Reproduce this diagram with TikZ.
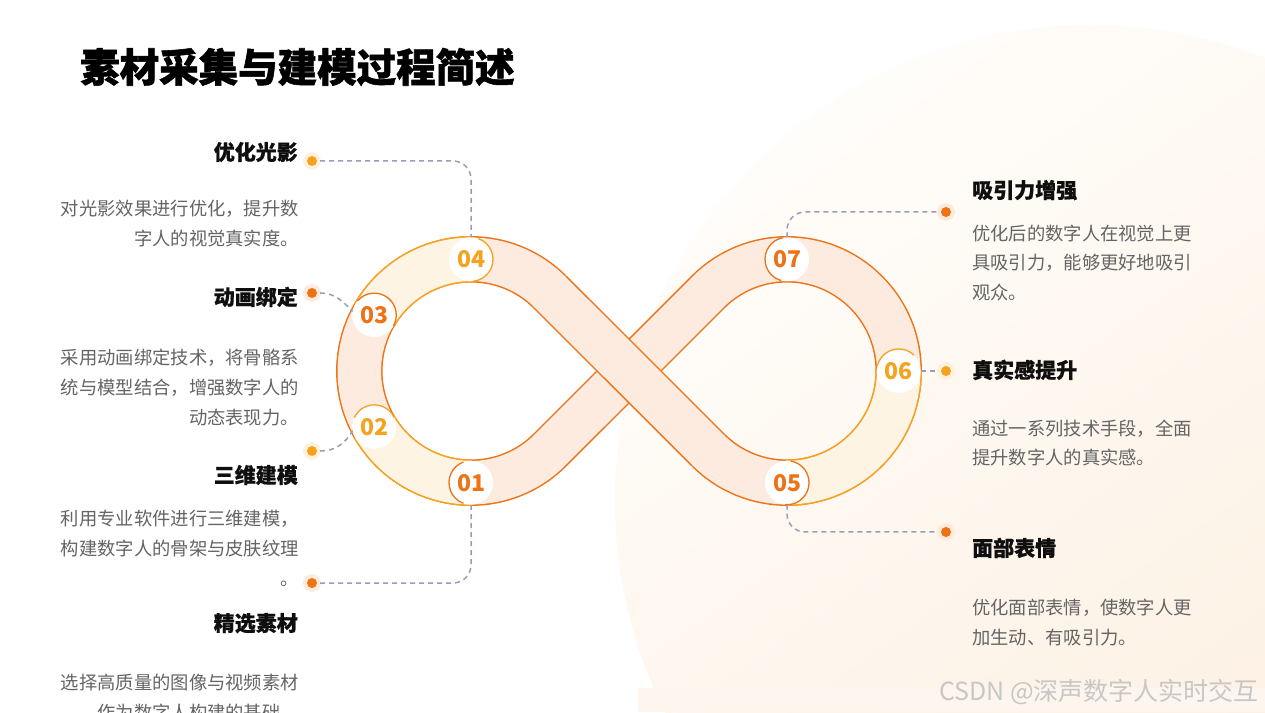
\documentclass[tikz,border=0pt]{standalone}
\usepackage{fontspec}
\setmainfont{Noto Sans CJK SC}
\newfontfamily\heavyfont{Noto Sans CJK SC}[BoldFeatures={FakeBold=1.4}]
\newfontfamily\headfont{Noto Sans CJK SC}[BoldFeatures={FakeBold=0.6}]
\usetikzlibrary{calc}
\definecolor{tangerine}{RGB}{238,114,22}
\definecolor{saffron}{RGB}{245,163,30}
\definecolor{peach}{RGB}{252,235,222}
\definecolor{cream}{RGB}{254,244,228}
\definecolor{mist}{RGB}{156,156,182}
\definecolor{slate}{RGB}{100,100,100}
\definecolor{ink}{RGB}{15,15,15}
\definecolor{bgA}{RGB}{255,253,250}
\definecolor{bgB}{RGB}{254,246,238}
\definecolor{bgC}{RGB}{252,238,222}
\tikzset{
  rim/.style={line width=46.5pt,draw=#1},
  core/.style={line width=43.5pt,draw=#1},
  badge/.style={circle,fill=white,minimum size=44pt,inner sep=0pt,outer sep=0pt,
    text=#1,font=\fontsize{23}{23}\selectfont\bfseries},
  bead/.style={circle,fill=#1,minimum size=10pt,inner sep=0pt,
    preaction={draw=#1!14,line width=8pt}},
  leader/.style={draw=mist,line width=1.5pt,dash pattern=on 5pt off 4pt},
  headline/.style={font=\headfont\fontsize{21}{21}\selectfont\bfseries,text=ink,inner sep=0pt},
  bodytext/.style={font=\fontsize{18.3}{30}\selectfont,text=slate,inner sep=0pt},
}
\begin{document}
\begin{tikzpicture}[x=1pt,y=1pt]
  \useasboundingbox (0,0) rectangle (1265,712);
  \clip (0,0) rectangle (1265,712);
  \fill[white] (0,0) rectangle (1265,712);
  % soft backdrop
  \shade[top color=bgA,bottom color=bgC,shading angle=35] (1090,212) circle (475);
  \fill[bgB] (638,0) rectangle (1265,24);
  \coordinate (c1) at (471,341);
  \coordinate (c2) at (787,341);
  \coordinate (x) at (629,341);
  % lower strand of the loop
  \foreach \w/\col in {46.5pt/tangerine,43.5pt/peach}
    \draw[line width=\w,draw=\col] ($(c1)+(45:111.7)$) arc[start angle=45,end angle=315,radius=111.7]
      -- (x) -- ($(c2)+(135:111.7)$) arc[start angle=135,end angle=-135,radius=111.7];
  \foreach \c/\a/\b in {c1/90/150,c1/210/270,c2/0/-90}{
    \draw[rim=saffron] ($(\c)+(\a:111.7)$) arc[start angle=\a,end angle=\b,radius=111.7];
    \draw[core=cream] ($(\c)+(\a:111.7)$) arc[start angle=\a,end angle=\b,radius=111.7];
  }
  % upper strand
  \draw[rim=tangerine] ($(c2)+(-135:111.7)$) -- (x) -- ($(c1)+(45:111.7)$);
  \draw[core=peach,shorten <=-2pt,shorten >=-2pt] ($(c2)+(-135:111.7)$) -- (x) -- ($(c1)+(45:111.7)$);
  % numbered badges
  \foreach \n/\c/\ang/\col/\p/\q in {1/c1/270/tangerine/110/250,2/c1/210/saffron/155/25,
      3/c1/150/tangerine/140/-30,4/c1/90/saffron/70/-85,5/c2/270/tangerine/80/-95,
      6/c2/0/saffron/167/46,7/c2/90/tangerine/100/255}{
    \node[badge=\col] (n\n) at ($(\c)+(\ang:111.7)$) {0\n};
    \draw[\col,line width=1.3pt] (n\n.\p) arc[start angle=\p,end angle=\q,radius=22];
  }
  \foreach \n/\px/\py/\col in {4/312/551/saffron,3/312/419/tangerine,2/312/261/saffron,
      1/312/129/tangerine,7/946/500/tangerine,6/946/341/saffron,5/946/180/tangerine}
    \node[bead=\col] (d\n) at (\px,\py) {};
  \draw[leader,rounded corners=18pt] ([xshift=3pt]d4.east) -| (n4.north);
  \draw[leader] ([xshift=3pt]d3.east) to[out=0,in=135] (n3.170);
  \draw[leader] ([xshift=3pt]d2.east) to[out=0,in=240] (n2.190);
  \draw[leader,rounded corners=18pt] ([xshift=3pt]d1.east) -| (n1.south);
  \draw[leader,rounded corners=18pt] (n7.north) |- ([xshift=-3pt]d7.west);
  \draw[leader] (n6.east) -- ([xshift=-3pt]d6.west);
  \draw[leader,rounded corners=18pt] (n5.south) |- ([xshift=-3pt]d5.west);
  % texts
  \node[font=\heavyfont\fontsize{39.5}{40}\selectfont\bfseries,anchor=base west,inner sep=0pt] (title)
    at (80,630) {素材采集与建模过程简述};
  \node[headline,anchor=base east] (h4) at (298,552) {优化光影};
  \node[bodytext,anchor=north east,align=right] (p4) at (299,512.5)
    {对光影效果进行优化，提升数\\字人的视觉真实度。};
  \node[headline,anchor=base east] (h3) at (298,407) {动画绑定};
  \node[bodytext,anchor=north east,align=right] (p3) at (299,363.5)
    {采用动画绑定技术，将骨骼系\\统与模型结合，增强数字人的\\动态表现力。};
  \node[headline,anchor=base east] (h2) at (298,229) {三维建模};
  \node[bodytext,anchor=north east,align=right] (p2) at (299,202.5)
    {利用专业软件进行三维建模，\\构建数字人的骨架与皮肤纹理\\。};
  \node[headline,anchor=base east] (h1) at (298,81) {精选素材};
  \node[bodytext,anchor=north east,align=right] (p1) at (299,38.5)
    {选择高质量的图像与视频素材\\作为数字人构建的基础。};
  \node[headline,anchor=base west] (h7) at (972,514) {吸引力增强};
  \node[bodytext,font=\fontsize{18.3}{29.5}\selectfont,anchor=north west,align=left] (p7)
    at (972,487.5) {优化后的数字人在视觉上更\\具吸引力，能够更好地吸引\\观众。};
  \node[headline,anchor=base west] (h6) at (972,334) {真实感提升};
  \node[bodytext,font=\fontsize{18.3}{29.5}\selectfont,anchor=north west,align=left] (p6)
    at (972,292.5) {通过一系列技术手段，全面\\提升数字人的真实感。};
  \node[headline,anchor=base west] (h5) at (972,156) {面部表情};
  \node[bodytext,anchor=north west,align=left] (p5) at (972,113.5)
    {优化面部表情，使数字人更\\加生动、有吸引力。};
  \node[font=\fontsize{25}{25}\selectfont,text=black!22,anchor=base east,inner sep=0pt] (mark)
    at (1259,12) {CSDN @深声数字人实时交互};
\end{tikzpicture}
\end{document}
